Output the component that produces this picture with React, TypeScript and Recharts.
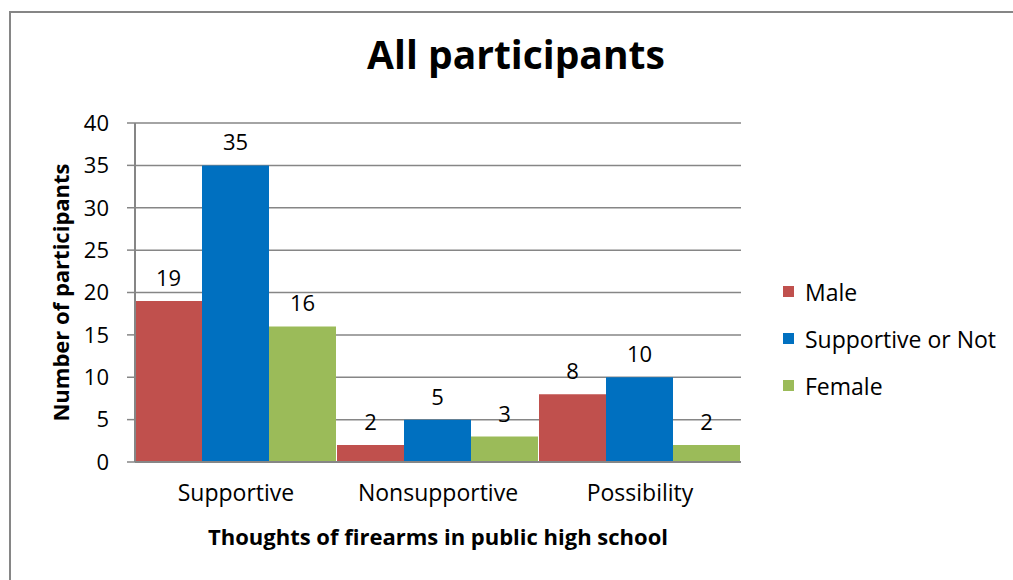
import React from 'react';
import {
  BarChart,
  Bar,
  XAxis,
  YAxis,
  CartesianGrid,
  LabelList,
  Label,
} from 'recharts';

const categories = ['Supportive', 'Nonsupportive', 'Possibility'];
const maleValues = [19, 2, 8];
const supportiveOrNotValues = [35, 5, 10];
const femaleValues = [16, 3, 2];
const yTicks = [0, 5, 10, 15, 20, 25, 30, 35, 40];

const seriesNames = ['Male', 'Supportive or Not', 'Female'];
const seriesKeys = ['male', 'supportive', 'female'];
const seriesColors = ['#C0504D', '#0070C0', '#9BBB59'];

const chartData = categories.map((name, i) => ({
  name,
  male: maleValues[i],
  supportive: supportiveOrNotValues[i],
  female: femaleValues[i],
}));

const FONT = '"Open Sans", sans-serif';
const GRID = '#868686';

export default function App() {
  return (
    <div
      style={{
        position: 'absolute',
        left: 0,
        top: 0,
        width: 1013,
        height: 580,
        overflow: 'hidden',
        background: '#fff',
        fontFamily: FONT,
      }}
    >
      <div
        style={{
          position: 'absolute',
          left: 9,
          top: 11,
          width: 1200,
          height: 800,
          borderLeft: `2px solid ${GRID}`,
          borderTop: `2px solid ${GRID}`,
        }}
      />
      <div
        style={{
          position: 'absolute',
          left: 266,
          width: 500,
          top: 30,
          textAlign: 'center',
          fontSize: 39,
          fontWeight: 700,
          color: '#000',
          lineHeight: '48px',
        }}
      >
        All participants
      </div>
      <div
        style={{
          position: 'absolute',
          left: 783,
          top: 268,
          fontSize: 23,
          color: '#000',
        }}
      >
        {seriesNames.map((n, i) => (
          <div key={n} style={{ display: 'flex', alignItems: 'center', height: 47 }}>
            <span
              style={{
                display: 'inline-block',
                width: 11,
                height: 11,
                background: seriesColors[i],
                marginRight: 11,
              }}
            />
            <span>{n}</span>
          </div>
        ))}
      </div>
      <div style={{ position: 'absolute', left: 0, top: 0 }}>
        <BarChart
          width={1013}
          height={580}
          data={chartData}
          margin={{ top: 123, right: 272, bottom: 68, left: 0 }}
          barCategoryGap={0}
          barGap={0}
        >
          <CartesianGrid vertical={false} stroke={GRID} strokeWidth={1.5} />
          <XAxis
            dataKey="name"
            height={50}
            tickLine={false}
            axisLine={{ stroke: GRID, strokeWidth: 2 }}
            tick={{ fill: '#000', fontSize: 23, fontFamily: FONT }}
            tickMargin={17}
          >
            <Label
              content={(p: any) => {
                const vb = p.viewBox;
                return (
                  <text
                    x={vb.x + vb.width / 2}
                    y={536}
                    textAnchor="middle"
                    dominantBaseline="central"
                    fontFamily={FONT}
                    fontSize={22}
                    fontWeight={700}
                    fill="#000"
                  >
                    Thoughts of firearms in public high school
                  </text>
                );
              }}
            />
          </XAxis>
          <YAxis
            width={135}
            domain={[0, 40]}
            ticks={yTicks}
            interval={0}
            tickSize={8}
            tickMargin={18}
            tickLine={{ stroke: GRID, strokeWidth: 1.5 }}
            axisLine={{ stroke: GRID, strokeWidth: 2 }}
            tick={{ fill: '#000', fontSize: 22, fontFamily: FONT }}
          >
            <Label
              content={(p: any) => {
                const vb = p.viewBox;
                const cy = vb.y + vb.height / 2;
                return (
                  <text
                    x={60}
                    y={cy}
                    transform={`rotate(-90 60 ${cy})`}
                    textAnchor="middle"
                    dominantBaseline="central"
                    fontFamily={FONT}
                    fontSize={22}
                    fontWeight={700}
                    fill="#000"
                  >
                    Number of participants
                  </text>
                );
              }}
            />
          </YAxis>
          {seriesKeys.map((k, i) => (
            <Bar
              key={k}
              dataKey={k}
              name={seriesNames[i]}
              fill={seriesColors[i]}
              isAnimationActive={false}
            >
              <LabelList
                dataKey={k}
                position="top"
                offset={15}
                fill="#000"
                fontSize={22}
                fontFamily={FONT}
              />
            </Bar>
          ))}
        </BarChart>
      </div>
    </div>
  );
}
